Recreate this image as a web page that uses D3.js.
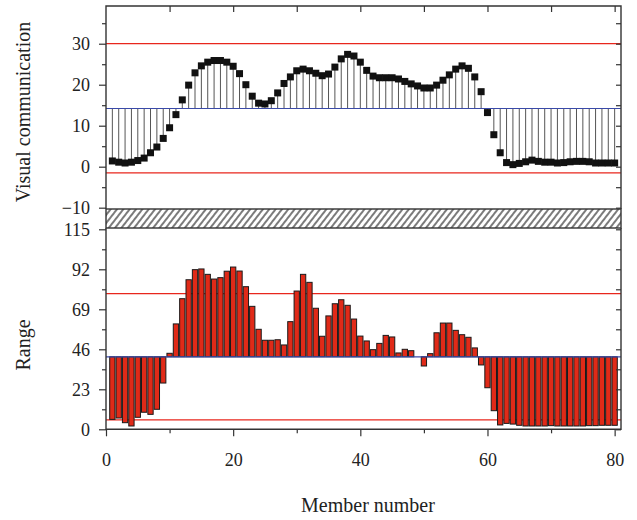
<!DOCTYPE html>
<html>
<head>
<meta charset="utf-8">
<script src="https://cdn.jsdelivr.net/npm/d3@7"></script>
<style>
  body { margin: 0; background: #fff; }
  text { font-family: "Liberation Serif", "DejaVu Serif", serif; fill: #222; }
</style>
</head>
<body>
<svg id="chart"></svg>
<script>
// member numbers 1..80
let members = d3.range(1, 81);

// top panel: visual communication
let commValues = [1.4,1.1,0.9,1.1,1.5,2.1,3.4,4.8,6.9,9.5,
  12.7,16.3,19.9,22.9,24.6,25.5,25.9,25.9,25.5,24.5,
  22.7,20.0,17.2,15.5,15.3,16.1,18.0,20.3,21.9,23.4,
  23.8,23.4,22.8,22.2,22.6,24.3,26.3,27.4,27.0,25.5,
  23.5,22.1,21.7,21.7,21.7,21.4,20.8,20.2,19.7,19.2,
  19.2,19.9,21.1,22.4,23.8,24.6,24.0,21.9,18.3,13.2,
  7.8,3.4,1.0,0.5,0.8,1.2,1.6,1.3,1.1,1.1,
  0.9,1.0,1.2,1.3,1.3,1.2,0.9,0.9,0.9,0.9];
let commMean = 14.2;
let commLimits = [30, -1.5];
let commTicks = [-10, 0, 10, 20, 30];

// bottom panel: range
let rangeValues = [5.7,6.5,3.8,1.9,6.9,9.8,8.6,11.5,26.6,43.7,
  60.6,75.1,86.0,91.8,92.2,89.1,86.4,87.2,90.9,93.3,
  91.0,82.0,70.7,57.5,51.2,51.2,51.5,48.5,61.9,79.5,
  89.1,84.5,69.6,53.5,65.2,72.2,74.5,71.3,63.4,53.6,
  50.8,45.8,49.4,54.0,53.1,43.9,46.0,45.2,41.7,36.4,
  43.5,55.5,61.1,61.1,56.9,54.4,52.9,46.8,37.0,23.9,
  10.7,2.5,3.4,3.0,2.3,1.9,1.9,1.9,1.9,2.1,
  1.9,1.9,1.9,1.9,1.9,2.1,2.1,2.3,2.3,2.3];
let rangeMean = 41.7;
let rangeLimits = [78, 5.4];
let rangeTicks = [0, 23, 46, 69, 92, 115];

let xTicks = [0, 20, 40, 60, 80];

let width = 637, height = 520;
let left = 106, right = 621;
let topY = 6, breakTop = 209, breakBottom = 228, bottomY = 429.3;

let svg = d3.select('#chart').attr('width', width).attr('height', height);

let xScale = d3.scaleLinear().domain([0, 81]).range([left, right]);
let yTop = d3.scaleLinear().domain([-10.32, 39.2]).range([breakTop, topY]);
let yBot = d3.scaleLinear().domain([0, 115]).range([bottomY, 229.3]);

let axisColor = '#333';

/* hatch pattern for the axis break */
let defs = svg.append('defs');
defs.append('pattern')
    .attr('id', 'hatch')
    .attr('patternUnits', 'userSpaceOnUse')
    .attr('width', 5).attr('height', 10)
    .attr('patternTransform', 'rotate(38)')
  .append('line')
    .attr('x1', 1).attr('y1', 0).attr('x2', 1).attr('y2', 10)
    .attr('stroke', '#222').attr('stroke-width', 1.2);

/* reference lines */
let refLine = (scale, v, color) => {
    svg.append('line')
        .attr('x1', left).attr('x2', right)
        .attr('y1', scale(v)).attr('y2', scale(v))
        .attr('stroke', color).attr('stroke-width', 1.2);
};

/* top panel: drop lines and squares */
svg.append('g').selectAll('line')
    .data(members)
    .enter().append('line')
    .attr('x1', d => xScale(d)).attr('x2', d => xScale(d))
    .attr('y1', yTop(commMean))
    .attr('y2', (d, i) => yTop(commValues[i]))
    .attr('stroke', '#555').attr('stroke-width', 1);

commLimits.forEach(v => refLine(yTop, v, '#e8261c'));
refLine(yTop, commMean, '#3a4aa8');

svg.append('g').selectAll('rect')
    .data(members)
    .enter().append('rect')
    .attr('x', d => xScale(d) - 3.5)
    .attr('y', (d, i) => yTop(commValues[i]) - 3.5)
    .attr('width', 7).attr('height', 7)
    .attr('fill', '#111');

/* bottom panel: bars from the mean line */
rangeLimits.forEach(v => refLine(yBot, v, '#e8261c'));

let barW = 5.3;
svg.append('g').selectAll('rect')
    .data(members)
    .enter().append('rect')
    .attr('x', d => xScale(d) - barW / 2)
    .attr('y', (d, i) => yBot(Math.max(rangeValues[i], rangeMean)))
    .attr('width', barW)
    .attr('height', (d, i) => Math.abs(yBot(rangeValues[i]) - yBot(rangeMean)))
    .attr('fill', '#e02a18')
    .attr('stroke', '#1a1a1a').attr('stroke-width', 1);

refLine(yBot, rangeMean, '#3a4aa8');

/* frames */
svg.append('rect')
    .attr('x', left).attr('y', breakTop)
    .attr('width', right - left).attr('height', breakBottom - breakTop)
    .attr('fill', 'url(#hatch)')
    .attr('stroke', axisColor).attr('stroke-width', 1.4);

svg.append('path')
    .attr('d', `M${left},${breakTop}V${topY}H${right}V${breakTop}`)
    .attr('fill', 'none').attr('stroke', axisColor).attr('stroke-width', 1.4);
svg.append('path')
    .attr('d', `M${left},${breakBottom}V${bottomY}H${right}V${breakBottom}`)
    .attr('fill', 'none').attr('stroke', axisColor).attr('stroke-width', 1.4);

/* axes */
let styleAxis = (g) => {
    g.select('.domain').remove();
    g.selectAll('line').attr('stroke', axisColor).attr('stroke-width', 1.2);
    g.selectAll('text').style('font-size', '18px')
        .style('font-family', '"Liberation Serif", serif').attr('fill', '#222');
};

let minorTop = d3.range(-5, 40, 10);
let minorBot = d3.range(11.5, 115, 23);

// left axes
svg.append('g').attr('transform', `translate(${left},0)`)
    .call(d3.axisLeft(yTop).tickValues(commTicks).tickSize(7).tickPadding(9)
        .tickFormat(d => d < 0 ? '\u2212' + Math.abs(d) : d))
    .call(styleAxis);
svg.append('g').attr('transform', `translate(${left},0)`)
    .call(d3.axisLeft(yTop).tickValues(minorTop).tickSize(4).tickFormat(''))
    .call(styleAxis);
svg.append('g').attr('transform', `translate(${left},0)`)
    .call(d3.axisLeft(yBot).tickValues(rangeTicks).tickSize(7).tickPadding(9))
    .call(styleAxis);
svg.append('g').attr('transform', `translate(${left},0)`)
    .call(d3.axisLeft(yBot).tickValues(minorBot).tickSize(4).tickFormat(''))
    .call(styleAxis);

// right axes, inward
svg.append('g').attr('transform', `translate(${right},0)`)
    .call(d3.axisLeft(yTop).tickValues(commTicks.concat(minorTop)).tickSize(5).tickFormat(''))
    .call(styleAxis);
svg.append('g').attr('transform', `translate(${right},0)`)
    .call(d3.axisLeft(yBot).tickValues(rangeTicks.concat(minorBot)).tickSize(5).tickFormat(''))
    .call(styleAxis);

// bottom axis
svg.append('g').attr('transform', `translate(0,${bottomY})`)
    .call(d3.axisBottom(xScale).tickValues(xTicks).tickSize(7).tickPadding(17))
    .call(styleAxis);
svg.append('g').attr('transform', `translate(0,${bottomY})`)
    .call(d3.axisBottom(xScale).tickValues([10, 30, 50, 70]).tickSize(4).tickFormat(''))
    .call(styleAxis);

// top axis, inward
svg.append('g').attr('transform', `translate(0,${topY})`)
    .call(d3.axisBottom(xScale).tickValues([10, 20, 30, 40, 50, 60, 70, 80]).tickSize(6).tickFormat(''))
    .call(styleAxis);

/* axis titles */
svg.append('text')
    .attr('transform', 'translate(30,112) rotate(-90)')
    .attr('text-anchor', 'middle')
    .style('font-size', '20px')
    .text('Visual communication');
svg.append('text')
    .attr('transform', 'translate(30,345) rotate(-90)')
    .attr('text-anchor', 'middle')
    .style('font-size', '20px')
    .text('Range');
svg.append('text')
    .attr('x', 368).attr('y', 512)
    .attr('text-anchor', 'middle')
    .style('font-size', '20px')
    .text('Member number');
</script>
</body>
</html>
